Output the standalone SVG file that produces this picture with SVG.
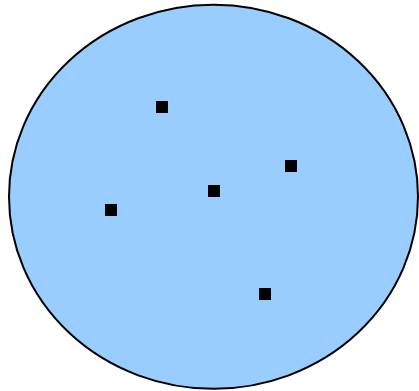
<svg xmlns="http://www.w3.org/2000/svg" width="419" height="391" viewBox="0 0 419 391">
<style>
.pt{fill:#000}
</style>
<rect width="419" height="391" fill="#fff"/>
<g id="region">
<ellipse cx="213.5" cy="196.8" rx="204.5" ry="192" fill="#99CCFF" stroke="#000" stroke-width="2"/>
</g>
<g id="p1"><rect class="pt" x="156" y="101" width="12" height="12"/></g>
<g id="p2"><rect class="pt" x="285" y="160" width="12" height="12"/></g>
<g id="p3"><rect class="pt" x="208" y="185" width="12" height="12"/></g>
<g id="p4"><rect class="pt" x="105" y="204" width="12" height="12"/></g>
<g id="p5"><rect class="pt" x="259" y="288" width="12" height="12"/></g>
<g id="connectors"></g>
</svg>
